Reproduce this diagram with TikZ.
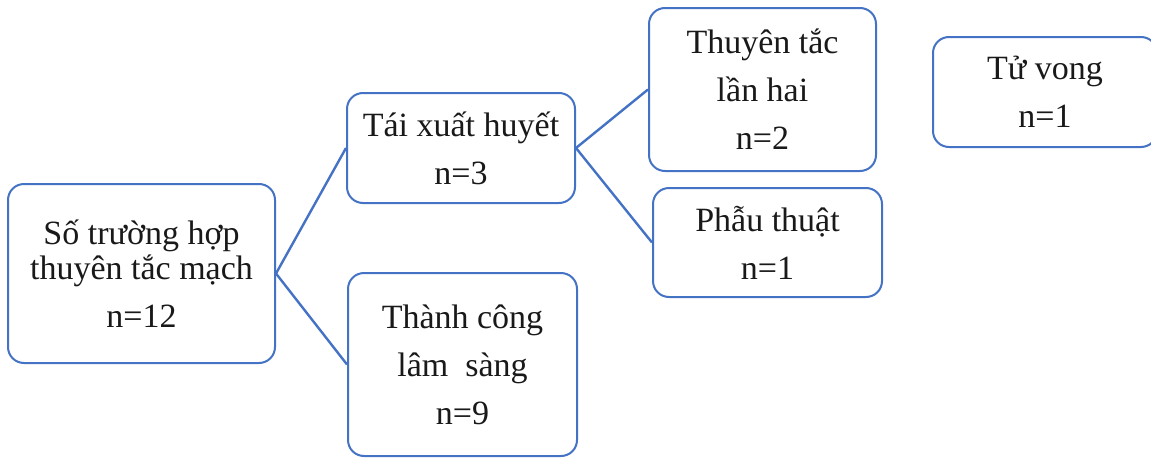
\documentclass[tikz,border=0pt]{standalone}
\usepackage{fontspec}
\setmainfont{Liberation Serif}
\definecolor{boxblue}{HTML}{4472C4}
\begin{document}
\begin{tikzpicture}[x=1pt,y=-1pt,
  box/.style={draw=boxblue, line width=2pt, rounded corners=16pt, fill=white,
    inner sep=0pt, align=center, text=black!90,
    font=\fontsize{34}{48}\selectfont},
  link/.style={draw=boxblue, line width=2.4pt}]
\useasboundingbox (0,0) rectangle (1151,458);
\clip (0,0) rectangle (1151,458);
% root: total embolism cases
\node[box, minimum width=267pt, minimum height=179pt] (root) at (141.5,273.5)
  {Số trường hợp\\[-13pt]thuyên tắc mạch\\n=12};
% second level
\node[box, minimum width=228pt, minimum height=110pt] (tai) at (461,148)
  {Tái xuất huyết\\n=3};
\node[box, minimum width=229pt, minimum height=183pt] (thanh) at (462.5,364.5)
  {Thành công\\lâm\ \ sàng\\n=9};
% third level
\node[box, minimum width=227pt, minimum height=163pt] (thuyen) at (762.5,89.5)
  {Thuyên tắc\\lần hai\\n=2};
\node[box, minimum width=229pt, minimum height=109pt] (phau) at (767.5,242.5)
  {Phẫu thuật\\n=1};
% standalone outcome box
\node[box, minimum width=224pt, minimum height=110pt] (tuvong) at (1045,92)
  {Tử vong\\n=1};
% connectors
\draw[link] (root.east) -- (tai.west);
\draw[link] (root.east) -- (thanh.west);
\draw[link] (tai.east) -- (thuyen.west);
\draw[link] (tai.east) -- (phau.west);
\end{tikzpicture}
\end{document}
